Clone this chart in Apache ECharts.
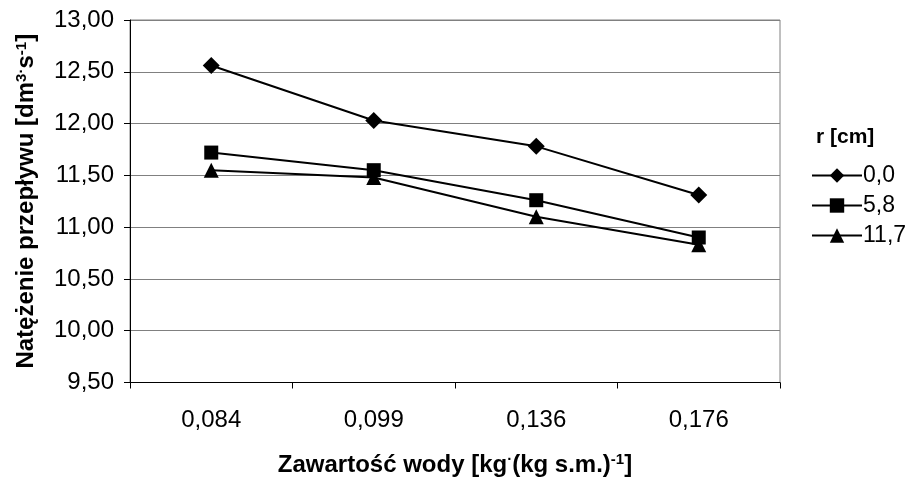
<!DOCTYPE html>
<html><head><meta charset="utf-8">
<script src="https://cdn.jsdelivr.net/npm/echarts@6/dist/echarts.min.js"></script>
<style>html,body{margin:0;padding:0;background:#fff}#c{width:919px;height:482px}</style>
</head><body><div id="c"></div>
<script>
const categories = ['0,084', '0,099', '0,136', '0,176'];
const seriesNames = ['0,0', '5,8', '11,7'];
const r00 = [12.56, 12.03, 11.78, 11.31];
const r58 = [11.72, 11.55, 11.26, 10.90];
const r117 = [11.55, 11.48, 11.10, 10.83];
const yTicks = { min: 9.5, max: 13.0, interval: 0.5 };

const FONT = '"Liberation Sans", Arial, sans-serif';
const FS = 24;
const TFS = 24;
const chart = echarts.init(document.getElementById('c'));
const mk = (name, data, symbol, size) => ({
  name, type: 'line', data, symbol, symbolSize: size,
  itemStyle: { color: '#000' },
  lineStyle: { color: '#000', width: 2 },
  emphasis: { disabled: true }, animation: false
});
const rich = {
  b: { fontFamily: FONT, fontSize: TFS, fontWeight: 'bold', color: '#000' },
  s: { fontFamily: FONT, fontSize: 15, fontWeight: 'bold', color: '#000', verticalAlign: 'top', padding: [0,0,10,0] }
};
chart.setOption({
  animation: false,
  textStyle: { fontFamily: FONT },
  title: {
    text: 'r [cm]', left: 811, top: 122,
    textStyle: { fontFamily: FONT, fontSize: 21, fontWeight: 'bold', color: '#000' }
  },
  legend: {
    orient: 'vertical', left: 806, top: 159, itemGap: 7,
    itemWidth: 50, itemHeight: 18,
    textStyle: { fontFamily: FONT, fontSize: 23, color: '#000', padding: [0,0,0,-4] },
    data: seriesNames
  },
  grid: { left: 130, right: 139, top: 20, bottom: 99, show: true, borderColor: '#808080', borderWidth: 1 },
  xAxis: {
    type: 'category', data: categories, boundaryGap: true,
    axisLine: { lineStyle: { color: '#000', width: 1 } },
    axisTick: { show: true, length: 6, lineStyle: { color: '#000' } },
    axisLabel: { fontFamily: FONT, fontSize: FS, color: '#000', margin: 26 },
    name: '{b|Zawartość wody [kg}{s|·}{b|(kg s.m.)}{s|-1}{b|]}',
    nameLocation: 'middle', nameGap: 70,
    nameTextStyle: { rich }
  },
  yAxis: {
    type: 'value', min: yTicks.min, max: yTicks.max, interval: yTicks.interval,
    axisLine: { show: true, lineStyle: { color: '#000', width: 1 } },
    axisTick: { show: true, length: 6, lineStyle: { color: '#000' } },
    splitLine: { show: true, lineStyle: { color: '#808080', width: 1 } },
    axisLabel: { fontFamily: FONT, fontSize: FS, color: '#000', margin: 16,
      formatter: v => v.toFixed(2).replace('.', ',') },
    name: '{b|Natężenie przepływu [dm}{s|3}{s|·}{b|s}{s|-1}{b|]}',
    nameLocation: 'middle', nameGap: 91, nameRotate: 90,
    nameTextStyle: { rich }
  },
  series: [
    mk(seriesNames[0], r00, 'diamond', 17),
    mk(seriesNames[1], r58, 'rect', 14),
    mk(seriesNames[2], r117, 'triangle', 15)
  ]
});
</script></body></html>
